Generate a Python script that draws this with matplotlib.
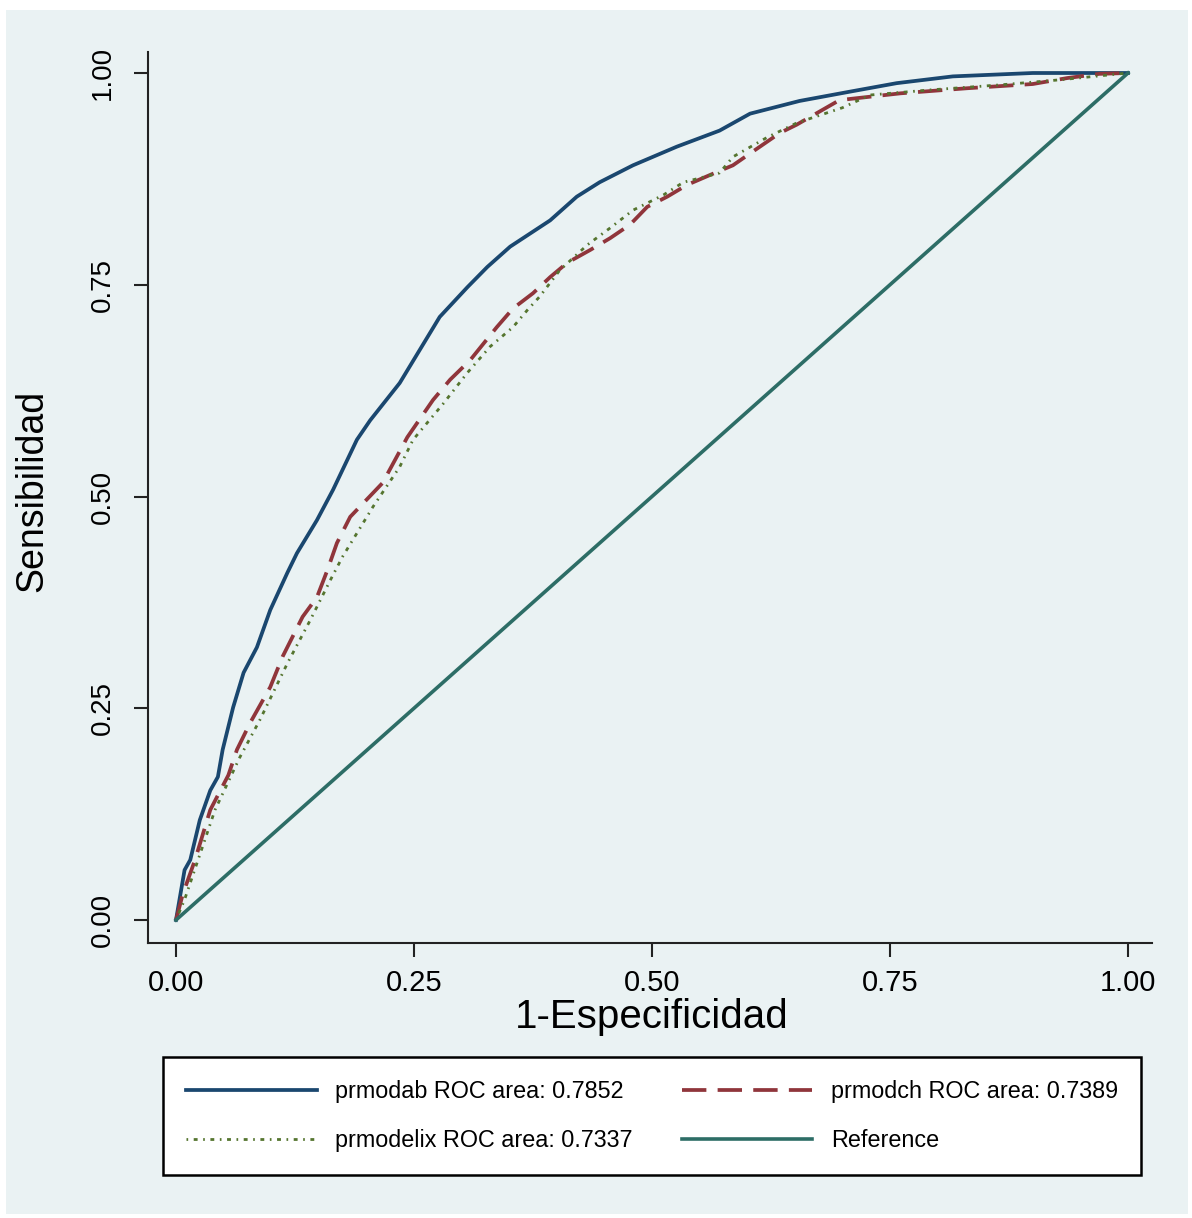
import matplotlib
matplotlib.use("Agg")
import matplotlib.pyplot as plt
from matplotlib.patches import Rectangle

# ---- data ----
ab_x = [0.0, 0.009, 0.015, 0.025, 0.036, 0.044, 0.049, 0.060, 0.071, 0.085, 0.099, 0.117, 0.127,
        0.148, 0.165, 0.190, 0.204, 0.235, 0.277, 0.306, 0.327, 0.351, 0.393, 0.421, 0.445,
        0.480, 0.526, 0.571, 0.603, 0.655, 0.708, 0.757, 0.816, 0.900, 1.0]
ab_y = [0.0, 0.059, 0.071, 0.118, 0.153, 0.169, 0.201, 0.251, 0.292, 0.322, 0.366, 0.410, 0.433,
        0.472, 0.508, 0.567, 0.590, 0.634, 0.712, 0.747, 0.771, 0.795, 0.826, 0.854, 0.871,
        0.891, 0.913, 0.932, 0.952, 0.967, 0.978, 0.988, 0.996, 1.0, 1.0]

ch_x = [0.0, 0.007, 0.020, 0.036, 0.055, 0.064, 0.078, 0.099, 0.112, 0.133, 0.148, 0.159, 0.169,
        0.183, 0.217, 0.243, 0.270, 0.288, 0.309, 0.337, 0.354, 0.375, 0.393, 0.411, 0.435,
        0.456, 0.477, 0.495, 0.516, 0.537, 0.568, 0.585, 0.603, 0.634, 0.652, 0.697, 0.761,
        0.831, 0.900, 0.936, 0.970, 1.0]
ch_y = [0.0, 0.030, 0.071, 0.130, 0.171, 0.201, 0.233, 0.275, 0.311, 0.358, 0.381, 0.413, 0.445,
        0.476, 0.516, 0.570, 0.614, 0.638, 0.661, 0.700, 0.722, 0.740, 0.759, 0.776, 0.791,
        0.805, 0.821, 0.842, 0.854, 0.868, 0.883, 0.891, 0.905, 0.929, 0.939, 0.968, 0.976,
        0.982, 0.987, 0.994, 0.999, 1.0]

elix_x = [0.0, 0.009, 0.025, 0.041, 0.067, 0.088, 0.117, 0.141, 0.162, 0.175, 0.207, 0.235, 0.249,
          0.281, 0.306, 0.330, 0.354, 0.369, 0.382, 0.403, 0.432, 0.456, 0.480, 0.512, 0.533,
          0.571, 0.585, 0.621, 0.652, 0.700, 0.729, 0.792, 0.866, 0.929, 1.0]
elix_y = [0.0, 0.024, 0.077, 0.130, 0.192, 0.236, 0.303, 0.354, 0.401, 0.429, 0.488, 0.535, 0.567,
          0.610, 0.646, 0.677, 0.700, 0.720, 0.736, 0.767, 0.797, 0.817, 0.838, 0.856, 0.871,
          0.882, 0.901, 0.924, 0.941, 0.959, 0.974, 0.980, 0.986, 0.992, 1.0]

ref_x = [0.0, 1.0]
ref_y = [0.0, 1.0]

labels = ["prmodab ROC area: 0.7852", "prmodch ROC area: 0.7389",
          "prmodelix ROC area: 0.7337", "Reference"]
ticks = [0.0, 0.25, 0.5, 0.75, 1.0]
tick_labels = ["0.00", "0.25", "0.50", "0.75", "1.00"]

BG = "#eaf2f3"
C_AB = "#1a476f"
C_CH = "#90353b"
C_EL = "#55752f"
C_REF = "#2d6d66"

plt.rcParams['font.family'] = ['Liberation Sans', 'DejaVu Sans']

W, H = 1192, 1218
fig = plt.figure(figsize=(W / 100, H / 100), dpi=100, facecolor="white")
fig.patches.append(Rectangle((6 / W, 1 - 1214 / H), (1188 - 6) / W, (1214 - 10) / H,
                             transform=fig.transFigure, facecolor=BG, edgecolor="none",
                             zorder=-10))

ax_l, ax_r, ax_t, ax_b = 148, 1152, 52, 943
ax = fig.add_axes([ax_l / W, 1 - ax_b / H, (ax_r - ax_l) / W, (ax_b - ax_t) / H])
ax.set_zorder(1)
ax.set_facecolor("none")

# pixel mapping: x=0 at 176, x=1 at 1128 ; y=0 at 920, y=1 at 73
xs = 952.0
ys = 847.0
ax.set_xlim((ax_l - 176) / xs, (ax_r - 176) / xs)
ax.set_ylim((920 - ax_b) / ys, (920 - ax_t) / ys)

l1, = ax.plot(ab_x, ab_y, color=C_AB, lw=2.7)
l2, = ax.plot(ch_x, ch_y, color=C_CH, lw=2.7, dashes=(6.5, 3))
l3, = ax.plot(elix_x, elix_y, color=C_EL, lw=2.0, dashes=(0.6, 2.0, 1.4, 2.0))
l4, = ax.plot(ref_x, ref_y, color=C_REF, lw=2.6)

for s in ["top", "right"]:
    ax.spines[s].set_visible(False)
for s in ["left", "bottom"]:
    ax.spines[s].set_linewidth(1.5)
    ax.spines[s].set_color("#222222")

ax.set_xticks(ticks)
ax.set_xticklabels(tick_labels)
ax.set_yticks(ticks)
ax.set_yticklabels(tick_labels, rotation=90, va="center")
ax.tick_params(axis="both", direction="out", length=10, width=1.5, color="#222222")
ax.tick_params(axis="x", labelsize=21, pad=9)
ax.tick_params(axis="y", labelsize=20, pad=13)

ax.set_xlabel("1-Especificidad", fontsize=29)
ax.xaxis.label.set_va("center")
ax.xaxis.set_label_coords((652 - ax_l) / (ax_r - ax_l), (ax_b - 1017) / (ax_b - ax_t))
ax.set_ylabel("Sensibilidad", fontsize=27)
ax.yaxis.label.set_va("center")
ax.yaxis.set_label_coords((32 - ax_l) / (ax_r - ax_l), (ax_b - 491) / (ax_b - ax_t))

# column-major order so rows read: (ab, ch) / (elix, ref)
leg = fig.legend([l1, l3, l2, l4], [labels[0], labels[2], labels[1], labels[3]],
                 ncol=2, loc="center",
                 bbox_to_anchor=(652 / W, 1 - 1116 / H),
                 fontsize=16.8, frameon=True, fancybox=False,
                 handlelength=5.6, handletextpad=0.8, columnspacing=2.1,
                 labelspacing=1.1, borderpad=1.0)
leg.set_zorder(5)
leg.get_frame().set_edgecolor("black")
leg.get_frame().set_linewidth(1.8)
leg.get_frame().set_facecolor("white")
leg.get_frame().set_alpha(1)

fig.savefig("out.png", dpi=100, facecolor="white")
